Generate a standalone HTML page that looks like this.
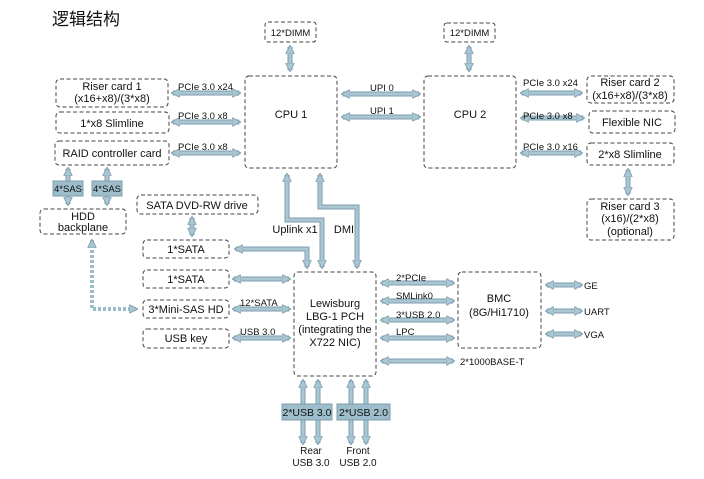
<!DOCTYPE html>
<html><head><meta charset="utf-8"><style>
html,body{margin:0;padding:0;background:#fff;}
svg{display:block;font-family:"Liberation Sans",Arial,sans-serif;}
.b{fill:#fff;stroke:#444;stroke-width:1;stroke-dasharray:4,2.5;}
.t{font-size:11px;fill:#111;text-anchor:middle;}
.s{font-size:9.5px;fill:#111;}
.f{fill:#9dbdcb;stroke:#7e9dac;stroke-width:1;}
</style></head><body>
<svg width="704" height="479" viewBox="0 0 704 479" xmlns="http://www.w3.org/2000/svg">
<defs>
<marker id="a" viewBox="0 0 10 10" refX="9" refY="5" markerWidth="9" markerHeight="9" markerUnits="userSpaceOnUse" orient="auto-start-reverse">
<path d="M0,0 L10,5 L0,10 Z" fill="#a9c6d3" stroke="#7f9eae" stroke-width="1"/>
</marker>
</defs>
<text x="52" y="25" style="font-size:17px;font-family:'Liberation Sans','Noto Sans CJK SC',sans-serif;" fill="#111">逻辑结构</text>

<rect class="b" x="265" y="22" width="51" height="20" rx="3"/><text class="s" x="290.5" y="36" text-anchor="middle">12*DIMM</text>
<rect class="b" x="444" y="23" width="51" height="19" rx="3"/><text class="s" x="469.5" y="36" text-anchor="middle">12*DIMM</text>
<rect class="b" x="245" y="76" width="92" height="92" rx="4"/><text class="t" x="291" y="118">CPU 1</text>
<rect class="b" x="424" y="76" width="92" height="92" rx="4"/><text class="t" x="470" y="118">CPU 2</text>
<rect class="b" x="56" y="79" width="112" height="28" rx="4"/><text class="t" x="112" y="90">Riser card 1</text><text class="t" x="112" y="102">(x16+x8)/(3*x8)</text>
<rect class="b" x="56" y="112" width="113" height="21" rx="4"/><text class="t" x="112" y="127">1*x8 Slimline</text>
<rect class="b" x="55" y="141" width="114" height="24" rx="4"/><text class="t" x="112" y="157">RAID controller card</text>
<rect class="b" x="40" y="209" width="86" height="25" rx="4"/><text class="t" x="83" y="220">HDD</text><text class="t" x="83" y="231">backplane</text>
<rect class="b" x="137" y="195" width="121" height="19" rx="4"/><text class="t" x="197" y="209">SATA DVD-RW drive</text>
<rect class="b" x="143" y="240" width="86" height="18" rx="4"/><text class="t" x="186" y="253">1*SATA</text>
<rect class="b" x="143" y="270" width="86" height="18" rx="4"/><text class="t" x="186" y="283">1*SATA</text>
<rect class="b" x="143" y="300" width="86" height="18" rx="4"/><text class="t" x="186" y="313">3*Mini-SAS HD</text>
<rect class="b" x="143" y="329" width="86" height="19" rx="4"/><text class="t" x="186" y="342">USB key</text>
<rect class="b" x="294" y="272" width="82" height="104" rx="4"/>
<text class="t" x="335" y="307">Lewisburg</text><text class="t" x="335" y="320">LBG-1 PCH</text><text class="t" x="335" y="333">(integrating the</text><text class="t" x="335" y="346">X722 NIC)</text>
<rect class="b" x="458" y="272" width="83" height="76" rx="4"/><text class="t" x="499" y="302">BMC</text><text class="t" x="499" y="316">(8G/Hi1710)</text>
<rect class="b" x="587" y="76" width="87" height="27" rx="4"/><text class="t" x="630" y="86">Riser card 2</text><text class="t" x="630" y="99">(x16+x8)/(3*x8)</text>
<rect class="b" x="589" y="111" width="86" height="22" rx="4"/><text class="t" x="632" y="126">Flexible NIC</text>
<rect class="b" x="587" y="143" width="87" height="22" rx="4"/><text class="t" x="630" y="158">2*x8 Slimline</text>
<rect class="b" x="587" y="199" width="87" height="41" rx="4"/><text class="t" x="630" y="210">Riser card 3</text><text class="t" x="630" y="222">(x16)/(2*x8)</text><text class="t" x="630" y="235">(optional)</text>

<g stroke="#7f9eae" stroke-width="5" fill="none">
<path d="M290,47 V70"/><path d="M469,47 V70"/>
<path d="M173,93 H239"/><path d="M173,122 H239"/><path d="M173,153 H239"/>
<path d="M343,94 H419"/><path d="M343,117 H419"/>
<path d="M522,93 H581"/><path d="M522,118 H583"/><path d="M522,153 H581"/>
<path d="M68,169 V204"/><path d="M107,169 V204"/>
<path d="M192,218 V235"/>
<path d="M287,175 V220 H322 V267"/><path d="M320,175 V207 H357 V267"/>
<path d="M236,249 H307 V267"/>
<path d="M234,279 H289"/><path d="M234,309 H289"/><path d="M234,338 H289"/>
<path d="M382,283 H453"/><path d="M382,301 H453"/><path d="M382,320 H453"/><path d="M382,338 H453"/><path d="M382,361 H453"/>
<path d="M547,285 H581"/><path d="M547,311 H581"/><path d="M547,334 H581"/>
<path d="M628,170 V194"/>
<path d="M303,381 V443"/><path d="M318,381 V443"/><path d="M351,381 V443"/><path d="M366,381 V443"/>
</g>
<g stroke="#a9c6d3" stroke-width="3" fill="none" marker-start="url(#a)" marker-end="url(#a)">
<path d="M290,46 V71"/><path d="M469,46 V71"/>
<path d="M172,93 H240"/><path d="M172,122 H240"/><path d="M172,153 H240"/>
<path d="M342,94 H420"/><path d="M342,117 H420"/>
<path d="M521,93 H582"/><path d="M521,118 H584"/><path d="M521,153 H582"/>
<path d="M68,168 V205"/><path d="M107,168 V205"/>
<path d="M192,217 V236"/>
<path d="M287,174 V220 H322 V268"/><path d="M320,174 V207 H357 V268"/>
<path d="M235,249 H307 V268"/>
<path d="M233,279 H290"/><path d="M233,309 H290"/><path d="M233,338 H290"/>
<path d="M381,283 H454"/><path d="M381,301 H454"/><path d="M381,320 H454"/><path d="M381,338 H454"/><path d="M381,361 H454"/>
<path d="M546,285 H582"/><path d="M546,311 H582"/><path d="M546,334 H582"/>
<path d="M628,169 V195"/>
<path d="M303,380 V444"/><path d="M318,380 V444"/><path d="M351,380 V444"/><path d="M366,380 V444"/>
</g>
<path d="M92,240 V309 H137" stroke="#9dbdcb" stroke-width="4" stroke-dasharray="3,2" fill="none" marker-start="url(#a)" marker-end="url(#a)"/>

<rect class="f" x="53" y="181" width="30" height="15"/><text class="s" x="68" y="192" text-anchor="middle">4*SAS</text>
<rect class="f" x="92" y="181" width="30" height="15"/><text class="s" x="107" y="192" text-anchor="middle">4*SAS</text>
<rect class="f" x="282" y="404" width="50" height="16"/><text class="s" x="307" y="416" text-anchor="middle" style="font-size:10.5px">2*USB 3.0</text>
<rect class="f" x="337" y="404" width="53" height="16"/><text class="s" x="363.5" y="416" text-anchor="middle" style="font-size:10.5px">2*USB 2.0</text>

<text class="s" x="178" y="90">PCIe 3.0 x24</text>
<text class="s" x="178" y="119">PCIe 3.0 x8</text>
<text class="s" x="178" y="150">PCIe 3.0 x8</text>
<text class="s" x="370" y="91">UPI 0</text>
<text class="s" x="370" y="114">UPI 1</text>
<text class="s" x="523" y="86">PCIe 3.0 x24</text>
<text class="s" x="523" y="119">PCIe 3.0 x8</text>
<text class="s" x="523" y="150">PCIe 3.0 x16</text>
<text class="t" x="295" y="233" style="font-size:11px">Uplink x1</text>
<text class="t" x="344" y="233" style="font-size:11px">DMI</text>
<text class="s" x="240" y="306">12*SATA</text>
<text class="s" x="240" y="335">USB 3.0</text>
<text class="s" x="396" y="281">2*PCIe</text>
<text class="s" x="396" y="299">SMLink0</text>
<text class="s" x="396" y="318">3*USB 2.0</text>
<text class="s" x="396" y="335">LPC</text>
<text class="s" x="460" y="365">2*1000BASE-T</text>
<text class="s" x="584" y="289">GE</text>
<text class="s" x="584" y="315">UART</text>
<text class="s" x="584" y="338">VGA</text>
<text class="t" x="311" y="454" style="font-size:10px">Rear</text><text class="t" x="311" y="466" style="font-size:10px">USB 3.0</text>
<text class="t" x="358" y="454" style="font-size:10px">Front</text><text class="t" x="358" y="466" style="font-size:10px">USB 2.0</text>
</svg>
</body></html>
